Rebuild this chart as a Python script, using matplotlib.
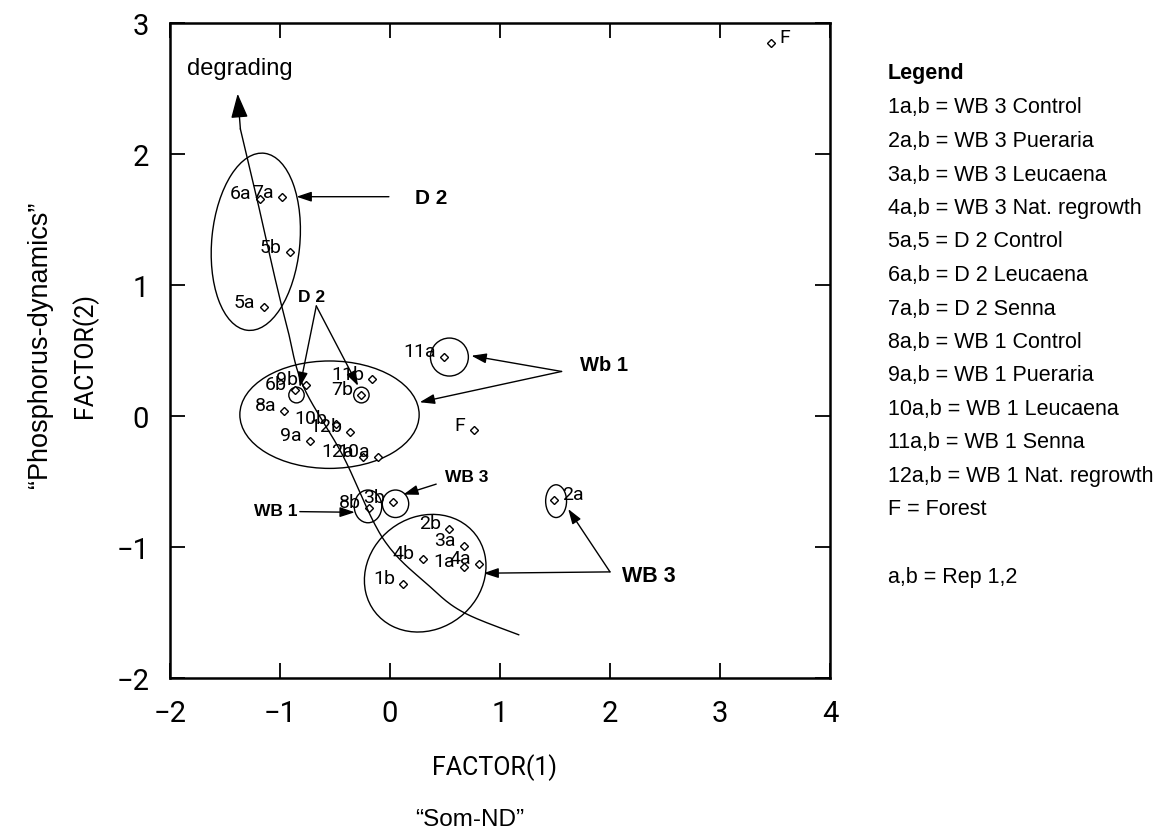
import matplotlib
matplotlib.use('Agg')
import matplotlib.pyplot as plt
import numpy as np
from matplotlib.patches import Ellipse

W, H = 1157, 837

# factor scores of the plots (FACTOR(1), FACTOR(2))
labels = ['6a', '7a', '5b', '5a', '11a', '11b', '7b', '6b', '9b', '8a',
          '10b', '12b', '9a', '12a', '10a', 'F', '8b', '3b', '2b', '3a',
          '4b', '1a', '4a', '1b', '2a', 'F']
factor1 = [-1.18, -0.98, -0.91, -1.15, 0.49, -0.16, -0.26, -0.86, -0.76, -0.96,
           -0.49, -0.36, -0.73, -0.25, -0.11, 0.76, -0.19, 0.03, 0.54, 0.67,
           0.30, 0.67, 0.81, 0.12, 1.49, 3.46]
factor2 = [1.66, 1.67, 1.25, 0.83, 0.45, 0.28, 0.16, 0.20, 0.24, 0.04,
           -0.06, -0.12, -0.19, -0.31, -0.31, -0.11, -0.70, -0.66, -0.86, -0.99,
           -1.09, -1.15, -1.13, -1.28, -0.64, 2.85]

# group outlines: centre x, centre y, width, height, angle
groups = [
    (-1.22, 1.33, 0.80, 1.36, -7),
    (-0.55, 0.01, 1.63, 0.82, 0),
    (0.32, -1.20, 1.12, 0.88, 15),
    (0.54, 0.45, 0.345, 0.29, 0),
    (-0.26, 0.16, 0.14, 0.12, 0),
    (-0.85, 0.16, 0.14, 0.12, 0),
    (-0.20, -0.69, 0.25, 0.25, 0),
    (0.05, -0.67, 0.24, 0.21, 0),
    (1.51, -0.65, 0.19, 0.25, 0),
]

# site callouts: text, text position, font size, arrow start, arrow tips
callouts = [
    ('D 2', (0.23, 1.67), 15, (-0.01, 1.674), [(-0.85, 1.674)]),
    ('D 2', (-0.84, 0.91), 12.5, (-0.67, 0.84), [(-0.82, 0.22), (-0.29, 0.23)]),
    ('Wb 1', (1.73, 0.39), 14.5, (1.56, 0.34), [(0.74, 0.46), (0.27, 0.105)]),
    ('WB 3', (0.50, -0.46), 12.5, (0.42, -0.52), [(0.12, -0.60)]),
    ('WB 1', (-1.24, -0.72), 12.5, (-0.82, -0.73), [(-0.32, -0.735)]),
    ('WB 3', (2.11, -1.22), 15.5, (2.0, -1.19), [(1.62, -0.71), (0.85, -1.20)]),
]

# degradation trend line, from the arrow head downwards
trend_x = [-1.385, -1.36, -1.21, -1.045, -0.93, -0.79, -0.43, -0.06, 0.36, 0.67, 1.17]
trend_y = [2.46, 2.19, 1.66, 1.05, 0.66, 0.23, -0.30, -0.94, -1.30, -1.50, -1.67]

legend_lines = ['1a,b = WB 3 Control', '2a,b = WB 3 Pueraria', '3a,b = WB 3 Leucaena',
                '4a,b = WB 3 Nat. regrowth', '5a,5 = D 2 Control', '6a,b = D 2 Leucaena',
                '7a,b = D 2 Senna', '8a,b = WB 1 Control', '9a,b = WB 1 Pueraria',
                '10a,b = WB 1 Leucaena', '11a,b = WB 1 Senna', '12a,b = WB 1 Nat. regrowth',
                'F = Forest', '', 'a,b = Rep 1,2']

thin = ['Roboto', 'DejaVu Sans']
arial = ['Liberation Sans', 'DejaVu Sans']


def smooth(xs, ys, n=20):
    # Catmull-Rom curve through the given points
    p = np.column_stack([xs, ys])
    p = np.vstack([p[0], p, p[-1]])
    out = []
    for i in range(1, len(p) - 2):
        p0, p1, p2, p3 = p[i - 1], p[i], p[i + 1], p[i + 2]
        for t in np.linspace(0, 1, n, endpoint=False):
            out.append(0.5 * (2 * p1 + (-p0 + p2) * t
                              + (2 * p0 - 5 * p1 + 4 * p2 - p3) * t ** 2
                              + (-p0 + 3 * p1 - 3 * p2 + p3) * t ** 3))
    out.append(p[-2])
    out = np.array(out)
    return out[:, 0], out[:, 1]


fig = plt.figure(figsize=(W / 100, H / 100), dpi=100)
ax = fig.add_axes([170 / W, 1 - 679 / H, 660 / W, 655 / H])
ax.set_xlim(-2, 4)
ax.set_ylim(-2, 3)

for s in ax.spines.values():
    s.set_linewidth(1.8)
ax.set_xticks(range(-2, 5))
ax.set_yticks(range(-2, 4))
ax.set_xticklabels(['\u22122', '\u22121', '0', '1', '2', '3', '4'])
ax.set_yticklabels(['\u22122', '\u22121', '0', '1', '2', '3'])
ax.tick_params(direction='in', length=11, width=1.3, top=True, right=True,
               labelsize=21, pad=15)
for t in ax.get_xticklabels() + ax.get_yticklabels():
    t.set_family(thin)

# points
ax.plot(factor1, factor2, linestyle='none', marker='D', markersize=4.5,
        markerfacecolor='white', markeredgecolor='black', markeredgewidth=1)
for lab, x, y in zip(labels, factor1, factor2):
    right = lab == '2a' or y > 2.5
    ax.annotate(lab, (x, y), xytext=(6 if right else -6, 4), textcoords='offset points',
                ha='left' if right else 'right', va='center', fontsize=14, family=thin)

for cx, cy, w, h, ang in groups:
    ax.add_patch(Ellipse((cx, cy), w, h, angle=ang, fill=False, lw=1, color='black'))

for text, pos, size, start, tips in callouts:
    ax.text(pos[0], pos[1], text, fontsize=size, fontweight='bold', family=arial,
            ha='left', va='center')
    for tip in tips:
        ax.annotate('', xy=tip, xytext=start,
                    arrowprops=dict(arrowstyle='-|>,head_length=0.9,head_width=0.3',
                                    mutation_scale=10, lw=1, color='black',
                                    shrinkA=0, shrinkB=0))

cx_, cy_ = smooth(trend_x[1:], trend_y[1:])
ax.plot(cx_, cy_, color='black', lw=1)
ax.annotate('', xy=(trend_x[0], trend_y[0]), xytext=(trend_x[1], trend_y[1]),
            arrowprops=dict(arrowstyle='-|>,head_length=1.0,head_width=0.35',
                            mutation_scale=15, lw=1, color='black',
                            shrinkA=0, shrinkB=0))
fig.text(187 / W, 1 - 75 / H, 'degrading', fontsize=17, family=arial, va='baseline')

# axis titles
fig.text(495 / W, 1 - 768 / H, 'FACTOR(1)', fontsize=18, ha='center', va='center',
         family=thin)
fig.text(470 / W, 1 - 820 / H, '\u201cSom-ND\u201d', fontsize=17.5, family=arial,
         ha='center', va='center')
fig.text(85 / W, 1 - 355 / H, 'FACTOR(2)', fontsize=18, rotation=90,
         ha='center', va='center', family=thin)
fig.text(40 / W, 1 - 345 / H, '\u201cPhosphorus-dynamics\u201d', fontsize=19.5,
         family=arial, rotation=90, ha='center', va='center')

# legend block
fig.text(888 / W, 1 - 74 / H, 'Legend', fontsize=15.5, fontweight='bold',
         family=arial, va='center')
for i, line in enumerate(legend_lines):
    fig.text(888 / W, 1 - (108 + 33.5 * i) / H, line, fontsize=15.5,
             family=arial, va='center')

fig.savefig('out.png', dpi=100)
